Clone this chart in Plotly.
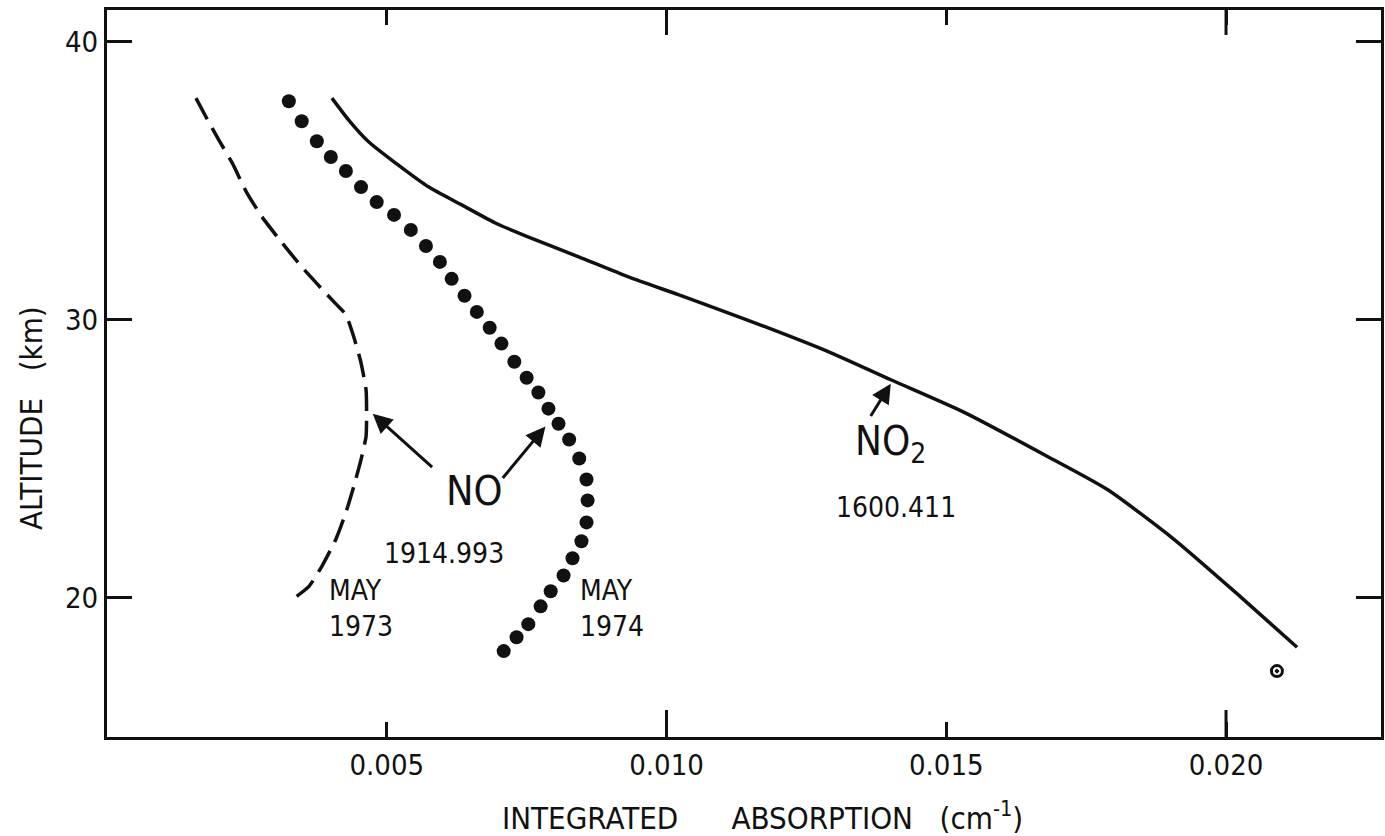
import plotly.graph_objects as go

# ---- data ----
# NO, May 1973 (dashed)
no1973_x = [0.00159, 0.00177, 0.00200, 0.00224, 0.00250, 0.00277, 0.00313, 0.00348,
            0.00382, 0.00409, 0.00427, 0.00441, 0.00454, 0.00463, 0.00464, 0.00463,
            0.00454, 0.00441, 0.00427, 0.00409, 0.00384, 0.00361, 0.00339]
no1973_y = [37.98, 37.30, 36.47, 35.64, 34.57, 33.71, 32.77, 31.91, 31.16, 30.58,
            30.19, 29.40, 28.46, 27.49, 26.67, 25.81, 24.98, 24.01, 23.08, 22.11,
            21.14, 20.42, 20.06]
# NO, May 1974 (dotted)
no1974_x = [0.00325, 0.00348, 0.00375, 0.00400, 0.00427, 0.00454, 0.00482, 0.00513,
            0.00543, 0.00570, 0.00595, 0.00616, 0.00639, 0.00661, 0.00684, 0.00705,
            0.00728, 0.00750, 0.00771, 0.00789, 0.00807, 0.00826, 0.00844, 0.00857,
            0.00859, 0.00857, 0.00848, 0.00832, 0.00816, 0.00793, 0.00775, 0.00753,
            0.00732, 0.00709]
no1974_y = [37.87, 37.15, 36.43, 35.86, 35.36, 34.78, 34.24, 33.78, 33.24, 32.66,
            32.09, 31.48, 30.87, 30.29, 29.72, 29.15, 28.50, 27.92, 27.39, 26.81,
            26.27, 25.70, 25.02, 24.26, 23.51, 22.72, 22.04, 21.43, 20.81, 20.24,
            19.70, 19.06, 18.59, 18.09]
# NO2 (solid)
no2_x = [0.00402, 0.00432, 0.00468, 0.00516, 0.00575, 0.00634, 0.00694, 0.00766,
         0.00843, 0.00932, 0.01021, 0.01105, 0.01176, 0.01294, 0.01401, 0.01533,
         0.01681, 0.01788, 0.01907, 0.02025, 0.02127]
no2_y = [37.98, 37.19, 36.40, 35.64, 34.78, 34.14, 33.49, 32.88, 32.27, 31.55,
         30.91, 30.29, 29.76, 28.82, 27.85, 26.67, 25.09, 23.90, 22.11, 20.06, 18.23]
# isolated point near the lower end of the NO2 curve
pt_x = [0.02091]
pt_y = [17.37]

x_ticks = [0.005, 0.010, 0.015, 0.020]
x_ticktext = ["0.005", "0.010", "0.015", "0.020"]
x_major = [0.010, 0.020]          # these carry longer tick marks
y_ticks = [20, 30, 40]
y_ticktext = ["20", "30", "40"]

FONT = "Liberation Sans Narrow, DejaVu Sans Condensed, Liberation Sans, sans-serif"
BLACK = "#111111"

fig = go.Figure()
fig.add_trace(go.Scatter(x=no1973_x, y=no1973_y, mode="lines",
                         line=dict(color=BLACK, width=3.5, dash="24px,10px",
                                   shape="spline", smoothing=0.5),
                         showlegend=False, hoverinfo="skip"))
fig.add_trace(go.Scatter(x=no1974_x, y=no1974_y, mode="markers",
                         marker=dict(color=BLACK, size=14, line=dict(width=0)),
                         showlegend=False, hoverinfo="skip"))
fig.add_trace(go.Scatter(x=no2_x, y=no2_y, mode="lines",
                         line=dict(color=BLACK, width=3.5, shape="spline", smoothing=0.6),
                         showlegend=False, hoverinfo="skip"))
fig.add_trace(go.Scatter(x=pt_x, y=pt_y, mode="markers",
                         marker=dict(color=BLACK, size=11, symbol="circle-open-dot",
                                     line=dict(width=3, color=BLACK)),
                         showlegend=False, hoverinfo="skip"))

XR = [0, 0.02277]
YR = [15.0, 41.15]
PLOT_H = 836 - 10 - 99

fig.update_layout(
    width=1385, height=836,
    margin=dict(l=107, r=1, t=10, b=99),
    paper_bgcolor="white", plot_bgcolor="white",
    font=dict(family=FONT, size=29, color=BLACK),
    xaxis=dict(range=XR, tickvals=x_ticks, ticktext=x_ticktext, ticks="inside",
               ticklen=15, tickwidth=3, tickcolor=BLACK, showline=True, linewidth=3,
               linecolor=BLACK, mirror="ticks", showgrid=False, zeroline=False,
               tickfont=dict(family=FONT, size=29, color=BLACK)),
    yaxis=dict(range=YR, tickvals=y_ticks, ticktext=y_ticktext, ticks="inside",
               ticklen=25, tickwidth=3, tickcolor=BLACK, showline=True, linewidth=3,
               linecolor=BLACK, mirror="ticks", showgrid=False, zeroline=False,
               tickfont=dict(family=FONT, size=29, color=BLACK)),
)

# longer tick marks at the 0.010 / 0.020 positions (bottom and top edges)
for v in x_major:
    fig.add_shape(type="line", xref="x", yref="y domain", x0=v, x1=v,
                  y0=0, y1=27 / PLOT_H, line=dict(color=BLACK, width=3))
    fig.add_shape(type="line", xref="x", yref="y domain", x0=v, x1=v,
                  y0=1 - 25 / PLOT_H, y1=1, line=dict(color=BLACK, width=3))

ann = []
def text(x, y, s, size=28, xanchor="center", align="center", ref="data"):
    d = dict(x=x, y=y, text=s, showarrow=False, xanchor=xanchor, yanchor="middle",
             align=align, font=dict(family=FONT, size=size, color=BLACK))
    if ref == "paper":
        d.update(xref="paper", yref="paper")
    ann.append(d)

def arrow(x_head, y_head, x_tail, y_tail):
    ann.append(dict(x=x_head, y=y_head, ax=x_tail, ay=y_tail, xref="x", yref="y",
                    axref="x", ayref="y", text="", showarrow=True, arrowhead=2,
                    arrowsize=1.3, arrowwidth=3, arrowcolor=BLACK, standoff=0))

text(0.00656, 23.85, "NO", size=41)
arrow(0.004749, 26.63, 0.005838, 24.66)
arrow(0.007836, 26.17, 0.007051, 24.26)
text(0.006017, 21.60, "1914.993")
text(0.003930, 19.62, "MAY<br>1973", xanchor="left", align="left")
text(0.008426, 19.62, "MAY<br>1974", xanchor="left", align="left")
arrow(0.014008, 27.71, 0.013633, 26.49)
text(0.01400, 25.55, "NO<sub>2</sub>", size=40)
text(0.014098, 23.25, "1600.411")
text(0.7204, -0.108,
     "INTEGRATED\u00a0\u00a0\u00a0\u00a0\u00a0\u00a0ABSORPTION\u00a0\u00a0\u00a0(cm<sup>-1</sup>)",
     size=31, xanchor="right", ref="paper")
ann.append(dict(x=-0.0595, y=0.439, xref="paper", yref="paper",
                text="ALTITUDE\u00a0\u00a0\u00a0(km)",
                showarrow=False, textangle=-90, xanchor="center", yanchor="middle",
                font=dict(family=FONT, size=31, color=BLACK)))
fig.update_layout(annotations=ann)

fig.write_html("out.html")
